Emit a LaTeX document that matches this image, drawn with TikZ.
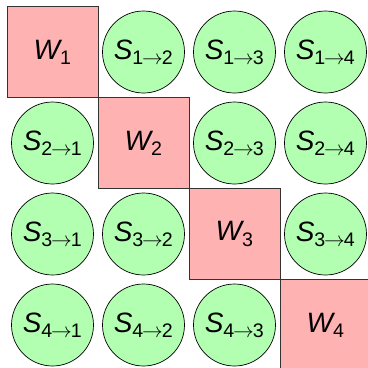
\documentclass[tikz,border=0pt]{standalone}
\usepackage{amsmath}
\usepackage{fontspec}
\setmainfont{Liberation Sans}
\newcommand{\wlab}[1]{{\itshape W}$_{\text{#1}}$}
\newcommand{\slab}[2]{{\itshape S}$_{\text{#1}\mkern-1mu\rightarrow\mkern-1mu\text{#2}}$}
\begin{document}
\begin{tikzpicture}[x=1pt,y=-1pt,
  wbox/.style={draw=black!80,line width=0.7pt,fill=red!30,minimum size=91pt,inner sep=0pt,font=\fontsize{28}{34}\selectfont},
  sball/.style={circle,draw=black,line width=0.7pt,fill=green!30,minimum size=82pt,inner sep=0pt,font=\fontsize{28}{34}\selectfont}]
\useasboundingbox (0,0) rectangle (368,368);
\clip (0,0) rectangle (368,368);
\foreach \i in {1,...,4}{
  \foreach \j in {1,...,4}{
    \pgfmathsetmacro{\cx}{52.5+91*(\j-1)}
    \pgfmathsetmacro{\cy}{52+91*(\i-1)}
    \ifnum\i=\j
      \node[wbox] (n\i\j) at (\cx,\cy) {\wlab{\i}};
    \else
      \node[sball] (n\i\j) at (\cx,\cy) {\slab{\i}{\j}};
    \fi
  }
}
\end{tikzpicture}
\end{document}
